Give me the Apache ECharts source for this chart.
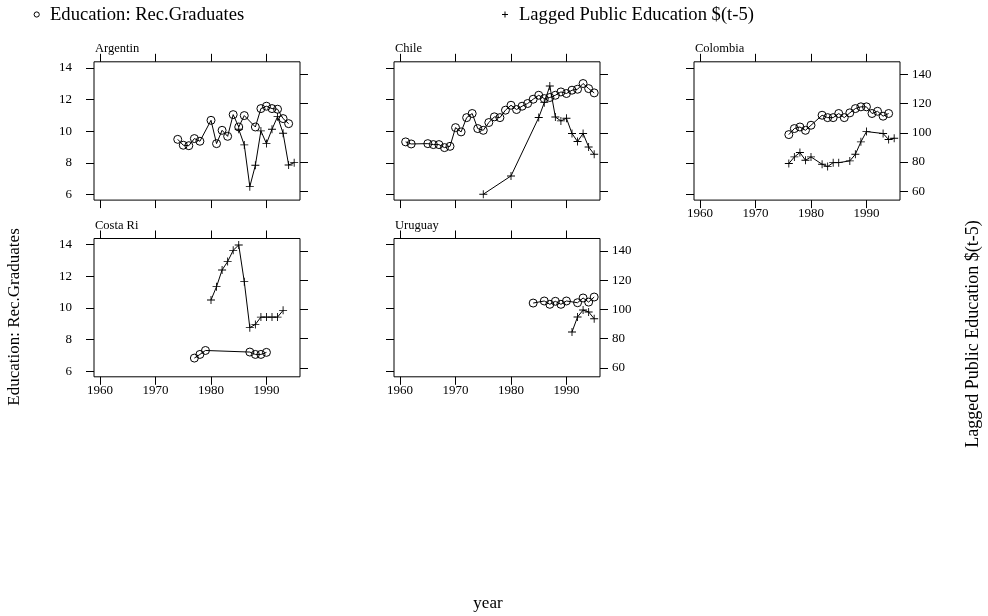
<!DOCTYPE html>
<html><head><meta charset="utf-8">
<script src="https://cdn.jsdelivr.net/npm/echarts@6/dist/echarts.min.js"></script>
<style>html,body{margin:0;padding:0;background:#fff}#c{width:988px;height:616px}</style>
</head><body><div id="c"></div>
<script>
// ---------- data ----------
const panelNames = ['Argentin', 'Chile', 'Colombia', 'Costa Ri', 'Uruguay'];
const xTickValues = [1960, 1970, 1980, 1990];
const leftTickValues = [6, 8, 10, 12, 14];
const rightTickValues = [60, 80, 100, 120, 140];
const seriesNames = ['Education: Rec.Graduates', 'Lagged Public Education $(t-5)'];

const argGradYears = [1974,1975,1976,1977,1978,1980,1981,1982,1983,1984,1985,1986,1988,1989,1990,1991,1992,1993,1994];
const argGrad      = [9.49,9.12,9.09,9.54,9.37,10.69,9.22,10.06,9.68,11.05,10.27,10.99,10.27,11.43,11.58,11.43,11.39,10.80,10.48];
const argPubYears  = [1985,1986,1987,1988,1989,1990,1991,1992,1993,1994,1995];
const argPub       = [102.4,91.7,63.2,77.8,101.3,92.6,102.4,111.0,99.7,78.0,79.6];

const chlGradYears = [1961,1962,1965,1966,1967,1968,1969,1970,1971,1972,1973,1974,1975,1976,1977,1978,1979,1980,1981,1982,1983,1984,1985,1986,1987,1988,1989,1990,1991,1992,1993,1994,1995];
const chlGrad      = [9.33,9.20,9.22,9.16,9.16,8.97,9.05,10.23,9.96,10.86,11.12,10.17,10.06,10.55,10.91,10.86,11.33,11.64,11.37,11.58,11.75,12.02,12.27,12.06,12.13,12.27,12.48,12.38,12.59,12.65,13.01,12.69,12.42];
const chlPubYears  = [1975,1980,1985,1986,1987,1988,1989,1990,1991,1992,1993,1994,1995];
const chlPub       = [58.0,70.5,110.4,120.6,132.0,110.8,108.1,109.9,99.5,94.0,99.5,90.3,85.3];

const colGradYears = [1976,1977,1978,1979,1980,1982,1983,1984,1985,1986,1987,1988,1989,1990,1991,1992,1993,1994];
const colGrad      = [9.79,10.17,10.27,10.06,10.38,11.01,10.86,10.86,11.12,10.86,11.16,11.43,11.54,11.54,11.12,11.26,10.95,11.12];
const colPubYears  = [1976,1977,1978,1979,1980,1982,1983,1984,1985,1987,1988,1989,1990,1993,1994,1995];
const colPub       = [79.0,83.5,86.5,81.2,83.5,78.5,76.9,79.6,79.6,80.8,85.3,93.8,100.8,99.5,95.4,96.3];

const criGradYears = [1977,1978,1979,1987,1988,1989,1990];
const criGrad      = [6.84,7.07,7.32,7.22,7.07,7.07,7.20];
const criPubYears  = [1980,1981,1982,1983,1984,1985,1986,1987,1988,1989,1990,1991,1992,1993];
const criPub       = [106.5,115.6,127.0,132.7,140.4,144.1,119.0,87.6,89.8,94.8,94.8,94.8,94.8,99.4];

const uryGradYears = [1984,1986,1987,1988,1989,1990,1992,1993,1994,1995];
const uryGrad      = [10.31,10.44,10.23,10.42,10.23,10.44,10.33,10.63,10.37,10.69];
const uryPubYears  = [1991,1992,1993,1994,1995];
const uryPub       = [84.6,94.9,99.6,98.3,93.7];

const gradYears = [argGradYears, chlGradYears, colGradYears, criGradYears, uryGradYears];
const gradVals  = [argGrad, chlGrad, colGrad, criGrad, uryGrad];
const pubYears  = [argPubYears, chlPubYears, colPubYears, criPubYears, uryPubYears];
const pubVals   = [argPub, chlPub, colPub, criPub, uryPub];

// ---------- layout ----------
const FONT = '"Liberation Serif","Times New Roman",serif';
const colLeft = [94, 394, 694];
const rowTop = [61.8, 238.5];
const panelW = 206, panelH = 138.3;
const panelCol = [0, 1, 2, 0, 1];
const panelRow = [0, 0, 0, 1, 1];
const showLeftLab = [true, false, false, true, false];
const showRightLab = [false, false, true, false, true];
const showBottomLab = [false, false, true, true, true];
const xMin = 1958.9, xMax = 1996.05;
const lMin = 5.66, lMax = 14.38;
const rMin = 54, rMax = 148.5;

const pairs = (xs, ys) => xs.map((x, i) => [x, ys[i]]);
const plain = v => String(v);
const tickStyle = { show: true, inside: false, length: 8, lineStyle: { color: '#000', width: 1 } };
const labStyle = { color: '#000', fontFamily: FONT, fontSize: 13, formatter: plain };
const plusPath = 'path://M0,4.45H10V5.55H0ZM4.45,0H5.55V10H4.45Z';

const grid = [], xAxis = [], yAxis = [], series = [], graphic = [];
panelNames.forEach((name, i) => {
  const left = colLeft[panelCol[i]], top = rowTop[panelRow[i]];
  grid.push({ left: left, top: top, width: panelW, height: panelH, show: true,
    borderColor: '#000', borderWidth: 1, backgroundColor: 'transparent', containLabel: false });
  xAxis.push({ gridIndex: i, type: 'value', min: xMin, max: xMax, position: 'bottom',
    axisLine: { show: false }, splitLine: { show: false },
    axisTick: Object.assign({ customValues: xTickValues }, tickStyle),
    axisLabel: Object.assign({ show: showBottomLab[i], customValues: xTickValues, margin: 7 }, labStyle) });
  xAxis.push({ gridIndex: i, type: 'value', min: xMin, max: xMax, position: 'top',
    axisLine: { show: false }, splitLine: { show: false },
    axisTick: Object.assign({ customValues: xTickValues }, tickStyle),
    axisLabel: { show: false } });
  yAxis.push({ gridIndex: i, type: 'value', min: lMin, max: lMax, position: 'left',
    axisLine: { show: false }, splitLine: { show: false },
    axisTick: Object.assign({ customValues: leftTickValues }, tickStyle),
    axisLabel: Object.assign({ show: showLeftLab[i], customValues: leftTickValues, margin: 22 }, labStyle) });
  yAxis.push({ gridIndex: i, type: 'value', min: rMin, max: rMax, position: 'right',
    axisLine: { show: false }, splitLine: { show: false },
    axisTick: Object.assign({ customValues: rightTickValues }, tickStyle),
    axisLabel: Object.assign({ show: showRightLab[i], customValues: rightTickValues, margin: 12 }, labStyle) });
  series.push({ name: seriesNames[0], type: 'line', xAxisIndex: 2 * i, yAxisIndex: 2 * i,
    data: pairs(gradYears[i], gradVals[i]), symbol: 'circle', symbolSize: 8, showAllSymbol: true,
    itemStyle: { color: 'rgba(0,0,0,0)', borderColor: '#000', borderWidth: 1 },
    lineStyle: { color: '#000', width: 1 }, silent: true });
  series.push({ name: seriesNames[1], type: 'line', xAxisIndex: 2 * i, yAxisIndex: 2 * i + 1,
    data: pairs(pubYears[i], pubVals[i]), symbol: plusPath, symbolSize: 8, showAllSymbol: true,
    itemStyle: { color: '#000', borderWidth: 0 },
    lineStyle: { color: '#000', width: 1 }, silent: true });
  graphic.push({ type: 'text', x: left + 1, y: top - 13, silent: true,
    style: { text: name, fill: '#000', fontFamily: FONT, fontSize: 12.5, align: 'left', verticalAlign: 'middle' } });
});

// legend (drawn as graphic)
graphic.push({ type: 'circle', shape: { cx: 36.7, cy: 14.5, r: 2.6 }, silent: true,
  style: { fill: 'none', stroke: '#000', lineWidth: 1 } });
graphic.push({ type: 'text', x: 50, y: 15, silent: true,
  style: { text: seriesNames[0], fill: '#000', fontFamily: FONT, fontSize: 18.6, align: 'left', verticalAlign: 'middle' } });
graphic.push({ type: 'line', shape: { x1: 502, y1: 14.5, x2: 508, y2: 14.5 }, silent: true, style: { stroke: '#000', lineWidth: 1 } });
graphic.push({ type: 'line', shape: { x1: 505, y1: 11.5, x2: 505, y2: 17.5 }, silent: true, style: { stroke: '#000', lineWidth: 1 } });
graphic.push({ type: 'text', x: 519, y: 15, silent: true,
  style: { text: seriesNames[1], fill: '#000', fontFamily: FONT, fontSize: 18.6, align: 'left', verticalAlign: 'middle' } });
// axis titles
graphic.push({ type: 'text', x: 488, y: 604, silent: true,
  style: { text: 'year', fill: '#000', fontFamily: FONT, fontSize: 17, align: 'center', verticalAlign: 'middle' } });
graphic.push({ type: 'text', x: 15, y: 317, rotation: Math.PI / 2, silent: true,
  style: { text: seriesNames[0], fill: '#000', fontFamily: FONT, fontSize: 17, align: 'center', verticalAlign: 'middle' } });
graphic.push({ type: 'text', x: 973, y: 334, rotation: Math.PI / 2, silent: true,
  style: { text: seriesNames[1], fill: '#000', fontFamily: FONT, fontSize: 18, align: 'center', verticalAlign: 'middle' } });

const chart = echarts.init(document.getElementById('c'), null, { renderer: 'canvas' });
chart.setOption({
  backgroundColor: '#fff',
  animation: false,
  grid: grid, xAxis: xAxis, yAxis: yAxis, series: series, graphic: graphic
});
</script></body></html>
